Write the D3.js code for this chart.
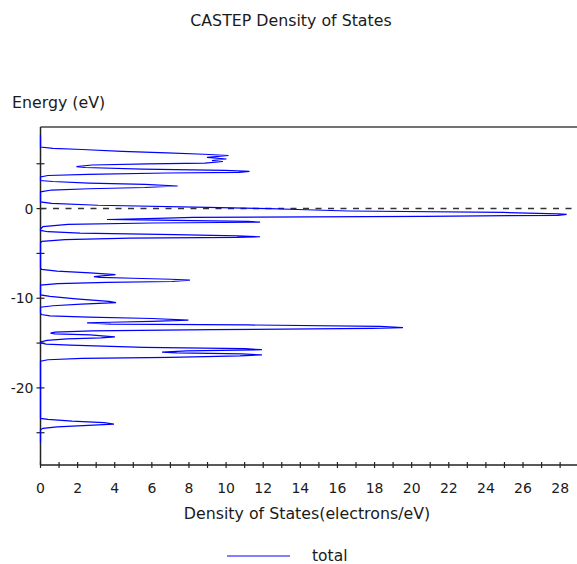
<!DOCTYPE html>
<html>
<head>
<meta charset="utf-8">
<script src="https://cdn.jsdelivr.net/npm/d3@7"></script>
<style>
  body { margin: 0; background: #fff; }
  svg text { font-family: "DejaVu Sans", Verdana, sans-serif; fill: #1a1a1a; }
</style>
</head>
<body>
<svg id="chart" width="577" height="564"></svg>
<script>
// Total density of states: energy (eV) and DOS (electrons/eV), sampled along the curve
const energy = [
  8.21, 6.87, 6.72, 6.59, 6.39, 6.22, 6.06, 5.92, 5.72, 5.53, 5.36, 5.25, 5.06, 4.99, 4.86, 4.69,
  4.58, 4.41, 4.27, 4.16, 4.05, 3.97, 3.82, 3.69, 3.52, 3.13, 3.02, 2.85, 2.71, 2.52, 2.35, 2.21,
  2.07, 1.87, 0.74, 0.59, 0.37, 0.14, -0.01, -0.10, -0.27, -0.43, -0.58, -0.64, -0.75, -0.86,
  -0.98, -1.10, -1.22, -1.29, -1.42, -1.52, -1.61, -1.77, -2.02, -2.27, -2.44, -2.58, -2.74,
  -2.90, -3.05, -3.14, -3.22, -3.30, -3.46, -3.65, -3.83, -6.62, -6.78, -6.98, -7.18, -7.36,
  -7.58, -7.68, -7.77, -7.88, -7.99, -8.13, -8.22, -8.37, -8.54, -9.63, -9.80, -10.08, -10.36,
  -10.49, -10.66, -10.84, -11.00, -11.64, -11.81, -11.97, -12.11, -12.26, -12.44, -12.59, -12.68,
  -12.75, -12.89, -12.98, -13.14, -13.28, -13.37, -13.51, -13.65, -13.79, -13.89, -13.98, -14.09,
  -14.20, -14.31, -14.43, -14.54, -14.70, -14.87, -14.98, -15.12, -15.23, -15.48, -15.63, -15.74,
  -15.88, -16.02, -16.10, -16.21, -16.32, -16.43, -16.60, -16.71, -16.86, -17.02, -23.40, -23.51,
  -23.71, -23.88, -24.04, -24.21, -24.35, -24.51, -24.68, -26.13
];
const dos = [
  0, 0, 0.67, 2.24, 4.39, 6.82, 8.81, 10.13, 8.97, 10.02, 9.24, 9.83, 8.86, 5.79, 2.77, 1.94,
  2.40, 5.50, 9.94, 11.26, 10.70, 6.79, 2.56, 0.40, 0, 0, 0.67, 2.61, 5.63, 7.39, 5.63, 2.61,
  0.59, 0, 0, 0.60, 3.10, 9.02, 12.37, 13.87, 16.57, 24.92, 27.88, 28.35, 27.88, 20.72,
  8.22, 6.28, 3.58, 6.28, 11.18, 11.83, 6.01, 1.48, 0.13, 0, 0, 0.40, 2.13,
  7.25, 10.59, 11.83, 10.59, 4.82, 1.32, 0.08, 0, 0, 0.06, 0.89, 2.67, 4.04,
  2.88, 3.21, 4.98, 7.03, 8.05, 7.09, 3.58, 0.94, 0, 0, 0.51, 1.91, 3.69,
  4.07, 2.21, 0.67, 0, 0, 0.05, 0.51, 2.59, 6.01, 7.97, 6.01, 3.74,
  2.51, 3.80, 11.18, 18.29, 19.53, 17.86, 9.24, 2.77, 0.78, 0.54, 0.78, 2.69,
  3.31, 4.01, 3.26, 1.43, 0.35, 0, 0, 0.30, 1.59, 5.58, 11.02, 11.93,
  7.89, 6.55, 7.35, 10.86, 11.93, 10.75, 6.98, 2.24, 0.40, 0, 0, 0.40,
  1.70, 3.42, 3.96, 2.29, 0.89, 0.13, 0, 0
];
const seriesName = "total";
const xMajorTicks = [0, 2, 4, 6, 8, 10, 12, 14, 16, 18, 20, 22, 24, 26, 28];
const xMinorTicks = [1, 3, 5, 7, 9, 11, 13, 15, 17, 19, 21, 23, 25, 27];
const yMajorTicks = [0, -10, -20];
const yMinorTicks = [5, -5, -15, -25];
const fermiLevel = 0;

const svg = d3.select("#chart");
const plotLeft = 40.5, plotRight = 578.7, plotTop = 127, plotBottom = 465;

const x = d3.scaleLinear().domain([0, 29]).range([plotLeft, plotRight]);
const y = d3.scaleLinear().domain([-28.6, 9.1]).range([plotBottom, plotTop]);

// Title
svg.append("text").attr("x", 291).attr("y", 26).attr("text-anchor", "middle")
  .attr("font-size", 15.8).text("CASTEP Density of States");

// Vertical axis title
svg.append("text").attr("x", 12).attr("y", 108).attr("font-size", 15.8).text("Energy (eV)");

// Frame top edge
svg.append("line").attr("x1", plotLeft).attr("x2", 577).attr("y1", plotTop).attr("y2", plotTop)
  .attr("stroke", "#444").attr("stroke-width", 1.5);

// Bottom axis: ticks cross the axis line
const xAxis = svg.append("g").attr("transform", `translate(0,${plotBottom})`);
xAxis.append("line").attr("x1", plotLeft).attr("x2", 577).attr("stroke", "#222").attr("stroke-width", 1.5);
xAxis.selectAll("line.tick").data(xMajorTicks.concat(xMinorTicks)).join("line")
  .attr("class", "tick").attr("x1", d => x(d)).attr("x2", d => x(d))
  .attr("y1", -3).attr("y2", 3).attr("stroke", "#222").attr("stroke-width", 1.2);
xAxis.selectAll("text").data(xMajorTicks).join("text")
  .attr("x", d => x(d)).attr("y", 28).attr("text-anchor", "middle")
  .attr("font-size", 14).text(d => d);
svg.append("text").attr("x", 307).attr("y", 519).attr("text-anchor", "middle")
  .attr("font-size", 15.8).text("Density of States(electrons/eV)");

// Left axis
const yAxis = svg.append("g").attr("transform", `translate(${plotLeft},0)`);
yAxis.append("line").attr("y1", plotTop).attr("y2", plotBottom).attr("stroke", "#222").attr("stroke-width", 1.5);
yAxis.selectAll("line.tick").data(yMajorTicks.concat(yMinorTicks)).join("line")
  .attr("class", "tick").attr("y1", d => y(d)).attr("y2", d => y(d))
  .attr("x1", -4).attr("x2", 4).attr("stroke", "#222").attr("stroke-width", 1.2);
yAxis.selectAll("text").data(yMajorTicks).join("text")
  .attr("x", -7).attr("y", d => y(d)).attr("dy", "0.36em").attr("text-anchor", "end")
  .attr("font-size", 14).text(d => d === 0 ? "0" : "-" + Math.abs(d));

// Fermi level
svg.append("line").attr("x1", plotLeft).attr("x2", 577)
  .attr("y1", y(fermiLevel)).attr("y2", y(fermiLevel))
  .attr("stroke", "#333").attr("stroke-width", 1.5).attr("stroke-dasharray", "6,6.5");

// DOS curve
const points = energy.map((e, i) => [dos[i], e]);
const line = d3.line().x(d => x(d[0])).y(d => y(d[1]));
svg.append("path").datum(points).attr("d", line)
  .attr("fill", "none").attr("stroke", "#0000ff").attr("stroke-width", 1.2)
  .attr("stroke-linejoin", "miter");

// Legend
svg.append("line").attr("x1", 227).attr("x2", 290).attr("y1", 556).attr("y2", 556)
  .attr("stroke", "#0000ff").attr("stroke-width", 1.2);
svg.append("text").attr("x", 312).attr("y", 560.5).attr("font-size", 15.5).text(seriesName);
</script>
</body>
</html>
